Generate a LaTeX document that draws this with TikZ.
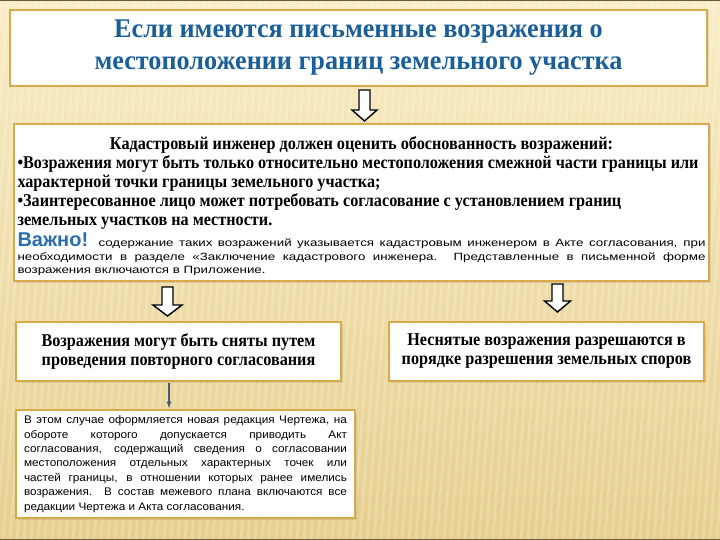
\documentclass[tikz,border=0pt]{standalone}
\usepackage{fontspec}
\setmainfont{Liberation Serif}
\newfontfamily\titlefont[FakeStretch = 0.97]{Liberation Serif}
\newfontfamily\bodyfont[FakeStretch = 0.9]{Liberation Serif}
\newfontfamily\arialfont{Liberation Sans}
\newfontfamily\smallfont[FakeStretch = 1.27]{Liberation Sans}
\newfontfamily\notefont[FakeStretch = 1.07]{Liberation Sans}
\usetikzlibrary{calc, shadows}

\definecolor{slidetop}{HTML}{F9EDC6}
\definecolor{slidebot}{HTML}{E6CF8E}
\definecolor{slideedge}{HTML}{6B5A35}
\definecolor{boxgold}{HTML}{DAAA4A}
\definecolor{titleblue}{HTML}{1A5E9A}
\definecolor{noteblue}{HTML}{2B6CB0}
\definecolor{linkblue}{HTML}{3E5C78}

\tikzset{
	slidebox/.style = {draw = boxgold, line width = 2pt, fill = white, inner sep = 0pt,
		drop shadow = {opacity = 0.2, shadow xshift = 1.5pt, shadow yshift = -1.5pt}},
	blockarrow/.style = {draw = black, line width = 1.4pt, fill = white, line join = miter},
}

% block arrow: #1 top of the shaft, #2 tip, #3 half width of the head
\newcommand{\blockarrow}[3]{%
	\draw [blockarrow] ($(#1) + (-5.5, 0)$) -- ($(#1) + (5.5, 0)$) -- ($(#2) + (5.5, -11)$)
		-- ($(#2) + (#3, -11)$) -- (#2) -- ($(#2) + (-#3, -11)$) -- ($(#2) + (-5.5, -11)$) -- cycle;
}

\begin{document}
\begin{tikzpicture}[> = latex, x = 1pt, y = -1pt]

	% Slide background
	\useasboundingbox (0, 0) rectangle (720, 540);
	\shade [top color = slidetop, bottom color = slidebot] (0, 0) rectangle (720, 540);
	\foreach \x in {-60, -53, ..., 720}
		\draw [white, opacity = 0.2, line width = 2.5pt] (\x + 40, 0) -- (\x, 540);
	\draw [slideedge, line width = 1.5pt] (0, 0.75) -- (720, 0.75);
	\draw [slideedge, line width = 1.5pt] (0, 539.25) -- (720, 539.25);

	% Boxes

	\node [slidebox, minimum width = 697, minimum height = 76, align = center, text = titleblue,
		font = \titlefont\fontsize{27}{32}\selectfont\bfseries] (title) at (358.5, 48)
		{Если имеются письменные возражения о\\местоположении границ земельного участка};

	\node [slidebox, minimum width = 695, minimum height = 157, text width = 688, align = justify,
		font = \bodyfont\fontsize{18}{19}\selectfont\bfseries] (main) at (361.5, 202.5)
		{{\centering\rule{0pt}{21pt}Кадастровый инженер должен оценить обоснованность возражений:\par}
		•Возражения могут быть только относительно местоположения смежной части границы или\\
		характерной точки границы земельного участка;\\
		•Заинтересованное лицо может потребовать согласование с установлением границ\\
		земельных участков на местности.\par\vspace{2.5pt}
		{\smallfont\mdseries\fontsize{10.5}{13.5}\selectfont
		{\arialfont\fontsize{20}{18}\selectfont\bfseries\color{noteblue}Важно!} содержание таких возражений указывается кадастровым инженером в Акте согласования, при\linebreak
		необходимости в разделе «Заключение кадастрового инженера. Представленные в письменной форме\linebreak
		возражения включаются в Приложение.\par}};

	\node [slidebox, minimum width = 325, minimum height = 59, align = center,
		font = \bodyfont\fontsize{18}{19}\selectfont\bfseries] (left) at (178.5, 351.5)
		{Возражения могут быть сняты путем\\проведения повторного согласования};

	\node [slidebox, minimum width = 315, minimum height = 59, align = center,
		font = \bodyfont\fontsize{18}{19}\selectfont\bfseries] (right) at (546.5, 351.5)
		{Неснятые возражения разрешаются в\\порядке разрешения земельных споров};

	\node [slidebox, minimum width = 339, minimum height = 108, text width = 323, align = justify,
		font = \notefont\fontsize{11}{14.4}\selectfont] (note) at (185.5, 464)
		{В этом случае оформляется новая редакция Чертежа, на\linebreak
		обороте которого допускается приводить Акт\linebreak
		согласования, содержащий сведения о согласовании\linebreak
		местоположения отдельных характерных точек или\linebreak
		частей границы, в отношении которых ранее имелись\linebreak
		возражения. В состав межевого плана включаются все\linebreak
		редакции Чертежа и Акта согласования.};

	% Arrows

	\blockarrow{$(title.south) + (6, 3)$}{$(main.north) + (3, -2)$}{12.5}
	\blockarrow{$(main.south -| left.north) + (-11, 5)$}{$(left.north) + (-11, -5)$}{14.5}
	\blockarrow{$(main.south -| right.north) + (11, 2)$}{$(right.north) + (11, -9)$}{13}

	\draw [->, linkblue, line width = 1.2pt] ($(left.south) + (-9.5, 1)$) -- ($(note.north -| left.south) + (-9.5, -1)$);

\end{tikzpicture}
\end{document}
